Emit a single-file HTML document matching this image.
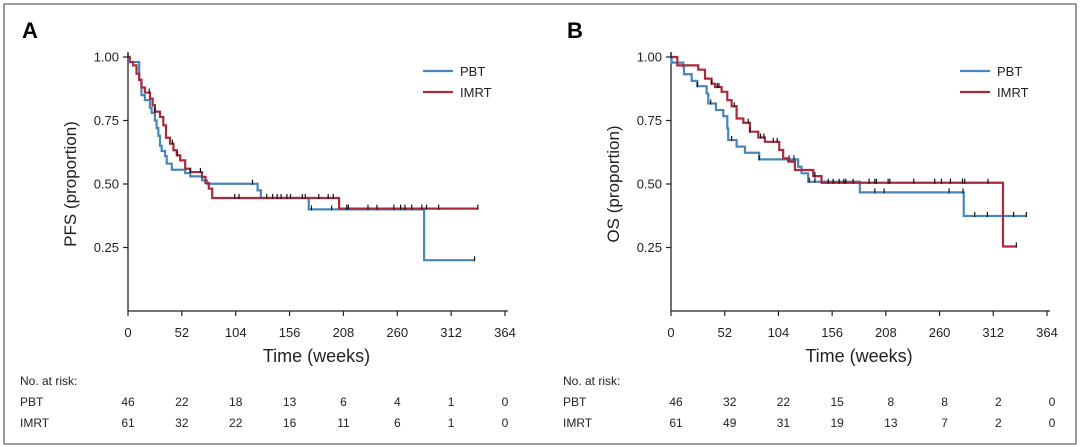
<!DOCTYPE html>
<html><head><meta charset="utf-8"><style>
body{margin:0;background:#fff;}
svg{display:block;font-family:"Liberation Sans",Arial,sans-serif;}
</style></head><body>
<svg id="fig" width="1080" height="447" viewBox="0 0 1080 447">
<rect x="4" y="4" width="1072" height="440" fill="none" stroke="#7a7a7a" stroke-width="1.5"/>
<text x="22" y="38" font-size="22" font-weight="bold">A</text>
<text x="567" y="38" font-size="22" font-weight="bold">B</text>
</svg>
<script>
const ticksX=[0,52,104,156,208,260,312,364];
const ticksY=[1.00,0.75,0.50,0.25];
const riskLabels=['PBT','IMRT'];
// Panel A (PFS) step points [week, survival]
const aPbt=[[0,1],[1,0.98],[10.8,0.91],[13,0.85],[16.3,0.83],[21.2,0.80],[22.8,0.78],[26,0.75],[27.6,0.72],[29.3,0.69],[30.9,0.65],[32.5,0.63],[35.8,0.61],[37.4,0.58],[42.3,0.556],[55.2,0.543],[60.1,0.53],[71.5,0.514],[76.3,0.501],[125.1,0.475],[128.3,0.445],[174.5,0.40],[285.9,0.20]];
const aPbtEnd=334.6;
const aImrt=[[0,1],[1.7,0.98],[4.9,0.967],[8.2,0.934],[10.8,0.91],[13,0.88],[16.3,0.86],[21.2,0.836],[23.8,0.81],[26,0.785],[30.9,0.764],[34.1,0.731],[36.7,0.682],[40.6,0.659],[43.9,0.633],[47.1,0.613],[50.4,0.593],[55.2,0.56],[60.1,0.547],[71.5,0.528],[74.8,0.504],[78,0.482],[81.3,0.445],[203.8,0.403]];
const aImrtEnd=337.8;
const aPbtCens=[120.2,177.1,196.6,334.6];
const aImrtCens=[0,20.5,26,42.9,47.8,60.1,69.9,103,107.2,133.9,139.7,144,147.8,153.4,156.9,168.3,171.2,184.2,193.3,198.2,211.2,212.8,231.7,240.4,256.7,263.2,267.4,273.9,283.7,288.2,299.9,337.8];
const aRiskPbt=[46,22,18,13,6,4,1,0];
const aRiskImrt=[61,32,22,16,11,6,1,0];
// Panel B (OS)
const bPbt=[[0,1],[0.6,0.978],[11.9,0.961],[12.6,0.932],[20,0.906],[25.5,0.885],[34.5,0.856],[36.1,0.817],[43.5,0.791],[50.6,0.767],[54.5,0.719],[55.4,0.673],[63.5,0.647],[71.6,0.623],[85.4,0.597],[123.1,0.568],[126.4,0.542],[132.8,0.509],[182.8,0.467],[283.4,0.374]];
const bPbtEnd=344.6;
const bImrt=[[0,1],[6.1,0.967],[26.4,0.95],[32.9,0.915],[39.3,0.895],[42.6,0.882],[49,0.863],[54.5,0.83],[58.7,0.806],[63.5,0.758],[70,0.741],[76.4,0.706],[84.5,0.683],[90.9,0.666],[104.8,0.634],[108.6,0.601],[113.5,0.588],[119.9,0.555],[137.7,0.531],[145.7,0.505],[321.4,0.254]];
const bImrtEnd=335;
const bPbtCens=[25.5,38.4,58.7,85.4,114.4,119,133.8,139.3,197.3,206.3,269.2,282.7,294,306.3,331.7,344];
const bImrtCens=[0,39.3,44.8,46.4,61.3,74.8,76.4,86.7,89.9,99,102.8,139.3,152.2,157,162.8,167.3,169.2,176.3,191.8,197.3,198.9,210.2,211.8,235,255.3,261.8,270.5,282.1,284.3,306.9,334.3];
const bRiskPbt=[46,32,22,15,8,8,2,0];
const bRiskImrt=[61,49,31,19,13,7,2,0];

const NS='http://www.w3.org/2000/svg';
const svg=document.getElementById('fig');
function mk(tag,attrs,txt){const e=document.createElementNS(NS,tag);for(const k in attrs)e.setAttribute(k,attrs[k]);if(txt!==undefined)e.textContent=txt;svg.appendChild(e);return e;}
const BLUE='#4a86b8',RED='#a82a3c';
function stepVal(pts,t){let v=pts[0][1];for(const p of pts){if(p[0]<=t)v=p[1];}return v;}
function panel(p,x0,x1,yTitle,pbt,pbtEnd,imrt,imrtEnd,pbtC,imrtC,rP,rI,riskOff,legX){
  const y0=311,y1=57;
  const sx=w=>x0+(w/364)*(x1-x0);
  const sy=v=>y0-v*(y0-y1);
  let e;
  e=mk('line',{x1:x0,y1:y1-5,x2:x0,y2:y0,stroke:'#222','stroke-width':1.3});
  
  e=mk('line',{x1:x0,y1:y0,x2:x1+3,y2:y0,stroke:'#222','stroke-width':1.3});
  
  ticksY.forEach(v=>{
    e=mk('line',{x1:x0-5,y1:sy(v),x2:x0,y2:sy(v),stroke:'#222','stroke-width':1.2});
    
    e=mk('text',{x:x0-9,y:sy(v)+4.5,'font-size':13,'text-anchor':'end',fill:'#222'},v.toFixed(2));
    
  });
  ticksX.forEach((w,i)=>{
    e=mk('line',{x1:sx(w),y1:y0,x2:sx(w),y2:y0+5,stroke:'#222','stroke-width':1.2});
    
    e=mk('text',{x:sx(w),y:337,'font-size':13,'text-anchor':'middle',fill:'#222'},String(w));
    
    e=mk('text',{x:sx(w)+riskOff,y:406,'font-size':12,'text-anchor':'middle',fill:'#222'},String(rP[i]));
    
    e=mk('text',{x:sx(w)+riskOff,y:427,'font-size':12,'text-anchor':'middle',fill:'#222'},String(rI[i]));
    
  });
  e=mk('text',{x:(x0+x1)/2,y:362,'font-size':18,'text-anchor':'middle',fill:'#222'},'Time (weeks)');
  
  e=mk('text',{x:0,y:0,'font-size':17,'text-anchor':'middle',fill:'#222',transform:`translate(${x0-52},184) rotate(-90)`},yTitle);
  
  const rx=x0-108;
  e=mk('text',{x:rx,y:385,'font-size':12,fill:'#222'},'No. at risk:');
  
  e=mk('text',{x:rx,y:406,'font-size':12,fill:'#222'},riskLabels[0]);
  
  e=mk('text',{x:rx,y:427,'font-size':12,fill:'#222'},riskLabels[1]);
  
  function curve(pts,end,col,name,cens){
    let d='M'+sx(pts[0][0])+','+sy(pts[0][1]);
    for(let i=1;i<pts.length;i++){d+=' H'+sx(pts[i][0])+' V'+sy(pts[i][1]);}
    d+=' H'+sx(end);
    let c=mk('path',{d:d,fill:'none',stroke:col,'stroke-width':2.2});
    
    cens.forEach(t=>{
      const v=stepVal(pts,t);
      let m=mk('line',{x1:sx(t),y1:sy(v)-4,x2:sx(t),y2:sy(v)+1,stroke:'#111','stroke-width':1.2});
      
    });
  }
  curve(pbt,pbtEnd,BLUE,p+'-pbt-curve',pbtC);
  curve(imrt,imrtEnd,RED,p+'-imrt-curve',imrtC);
  e=mk('line',{x1:legX,y1:71,x2:legX+30,y2:71,stroke:BLUE,'stroke-width':2.2});
  
  e=mk('text',{x:legX+37,y:76,'font-size':13,fill:'#222'},'PBT');
  
  e=mk('line',{x1:legX,y1:92,x2:legX+30,y2:92,stroke:RED,'stroke-width':2.2});
  
  e=mk('text',{x:legX+37,y:97,'font-size':13,fill:'#222'},'IMRT');
  
}
panel('pfs',128,505,'PFS (proportion)',aPbt,aPbtEnd,aImrt,aImrtEnd,aPbtCens,aImrtCens,aRiskPbt,aRiskImrt,0,423);
panel('os',671,1047,'OS (proportion)',bPbt,bPbtEnd,bImrt,bImrtEnd,bPbtCens,bImrtCens,bRiskPbt,bRiskImrt,5,960);
</script>
</body></html>
